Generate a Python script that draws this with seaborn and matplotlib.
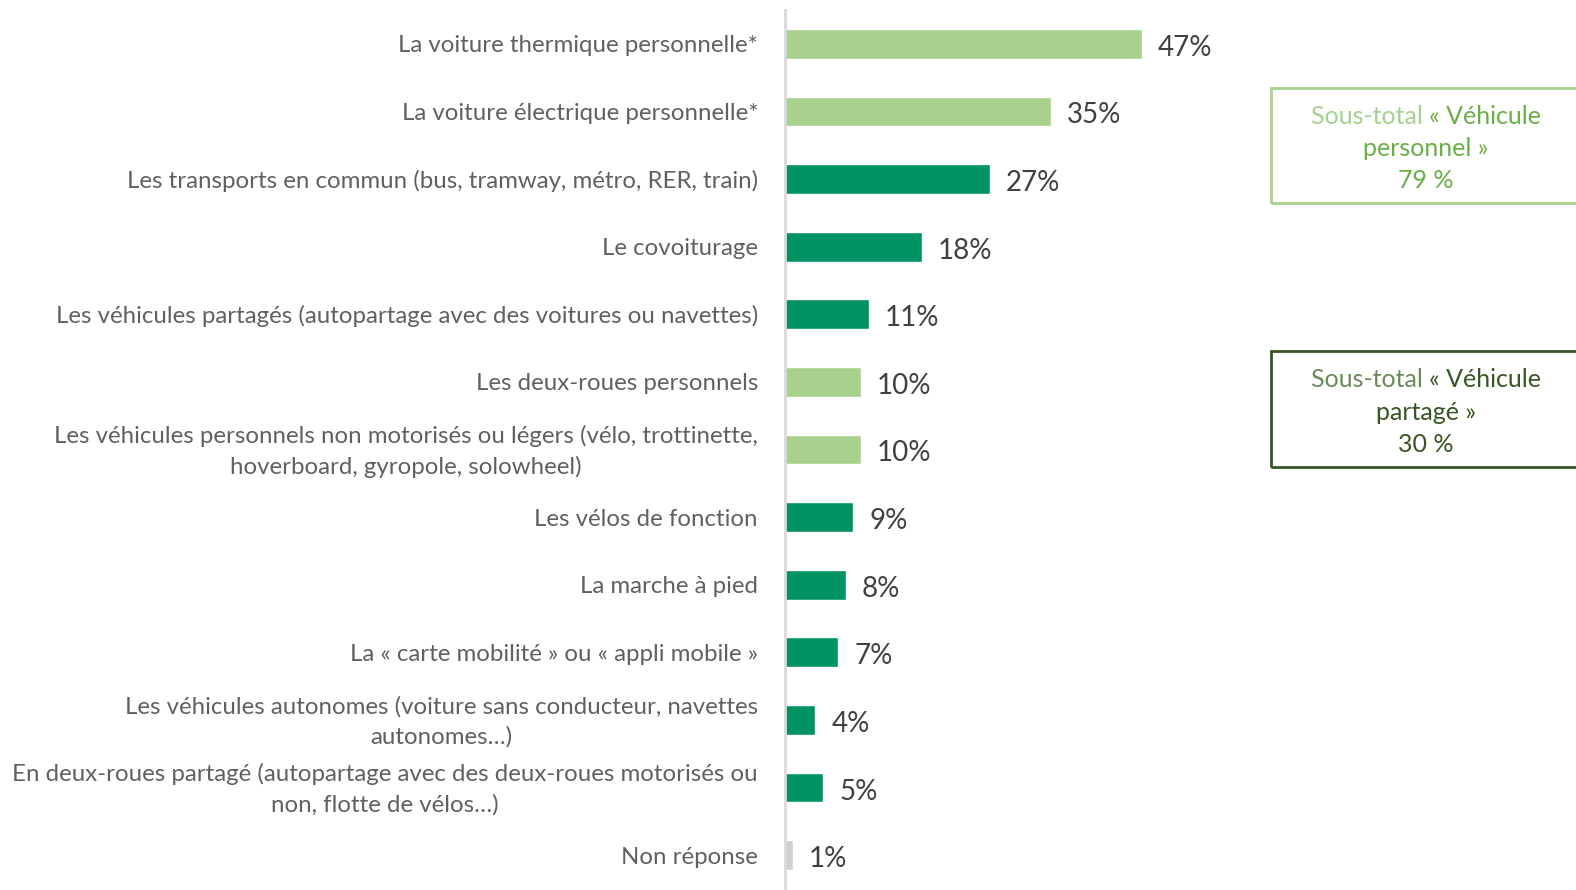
import matplotlib
matplotlib.use("Agg")
import matplotlib.pyplot as plt
from matplotlib.patches import Rectangle
import seaborn as sns
import pandas as pd
import numpy as np

categories = [
    "La voiture thermique personnelle*",
    "La voiture électrique personnelle*",
    "Les transports en commun (bus, tramway, métro, RER, train)",
    "Le covoiturage",
    "Les véhicules partagés (autopartage avec des voitures ou navettes)",
    "Les deux-roues personnels",
    "Les véhicules personnels non motorisés ou légers (vélo, trottinette,\nhoverboard, gyropole, solowheel)",
    "Les vélos de fonction",
    "La marche à pied",
    "La « carte mobilité » ou « appli mobile »",
    "Les véhicules autonomes (voiture sans conducteur, navettes\nautonomes…)",
    "En deux-roues partagé (autopartage avec des deux-roues motorisés ou\nnon, flotte de vélos…)",
    "Non réponse",
]
values = [47, 35, 27, 18, 11, 10, 10, 9, 8, 7, 4, 5, 1]
groups = ["perso", "perso", "partage", "partage", "partage", "perso", "perso",
          "partage", "partage", "partage", "partage", "partage", "nr"]
subtotal_labels = ["« Véhicule\npersonnel »\n79 %", "« Véhicule\npartagé »\n30 %"]

palette = {"perso": "#a9d18e", "partage": "#009264", "nr": "#d0d0d0"}

sns.set_theme(style="white")
plt.rcParams["font.family"] = ["Lato", "DejaVu Sans"]

W, H = 1576, 890
fig = plt.figure(figsize=(W / 100, H / 100), dpi=100)
ax = fig.add_axes([785 / W, 1 / H, 1 - 785 / W, (889 - 10) / H])

df = pd.DataFrame({"cat": categories, "val": values, "grp": groups})
sns.barplot(data=df, x="val", y="cat", hue="grp", palette=palette, dodge=False,
            width=0.44, legend=False, ax=ax, saturation=1)

ax.set_xlim(0, 104.1)
ax.set_ylim(len(categories) - 0.5, -0.5)
ax.set_xlabel("")
ax.set_ylabel("")
ax.set_xticks([])
for s in ["top", "right", "bottom"]:
    ax.spines[s].set_visible(False)
ax.spines["left"].set_color("#d9d9d9")
ax.spines["left"].set_linewidth(2)

# category labels, with separator ticks between rows
ax.set_yticks(range(len(categories)))
ax.set_yticklabels([])
ax.tick_params(axis="y", which="major", length=0)
ax.set_yticks(np.arange(-0.5, len(categories), 1), minor=True)
ax.tick_params(axis="y", which="minor", length=8, width=1.5, color="#d9d9d9")

for i, c in enumerate(categories):
    ax.annotate(c, xy=(0, i), xycoords="data", xytext=(-27, -2),
                textcoords="offset pixels", ha="right", va="center",
                multialignment="center", fontsize=17.3, color="#606060",
                linespacing=1.5)

for i, v in enumerate(values):
    ax.annotate(f"{v}%", xy=(v, i), xycoords="data", xytext=(16, -4),
                textcoords="offset pixels", ha="left", va="center",
                fontsize=20, color="#404040")

# subtotal boxes
def fx(px):
    return px / W

def fy(py):
    return 1 - py / H

boxes = [
    dict(y0=88, y1=203, edge="#a9d18e", head="#a3d18f", body="#6aae45", label=subtotal_labels[0]),
    dict(y0=351, y1=467, edge="#375623", head="#6a8a5a", body="#375623", label=subtotal_labels[1]),
]
renderer = fig.canvas.get_renderer()
cx = 1426
for b in boxes:
    fig.patches.append(Rectangle((fx(1271), fy(b["y1"])), fx(1600) - fx(1271),
                                 (b["y1"] - b["y0"]) / H, transform=fig.transFigure,
                                 fill=False, edgecolor=b["edge"], linewidth=2))
    lines = b["label"].split("\n")
    ys = [b["y0"] + 29, b["y0"] + 61, b["y0"] + 93]
    # first line: pale head followed by the coloured body
    t1 = fig.text(0, 0, "Sous-total ", fontsize=18)
    t2 = fig.text(0, 0, lines[0], fontsize=18)
    w1 = t1.get_window_extent(renderer).width
    w2 = t2.get_window_extent(renderer).width
    left = cx - (w1 + w2) / 2
    t1.set_position((fx(left), fy(ys[0])))
    t1.set_va("center")
    t1.set_color(b["head"])
    t2.set_position((fx(left + w1), fy(ys[0])))
    t2.set_va("center")
    t2.set_color(b["body"])
    for ln, yy in zip(lines[1:], ys[1:]):
        fig.text(fx(cx), fy(yy), ln, ha="center", va="center", fontsize=18,
                 color=b["body"])

fig.savefig("out.png", dpi=100)
